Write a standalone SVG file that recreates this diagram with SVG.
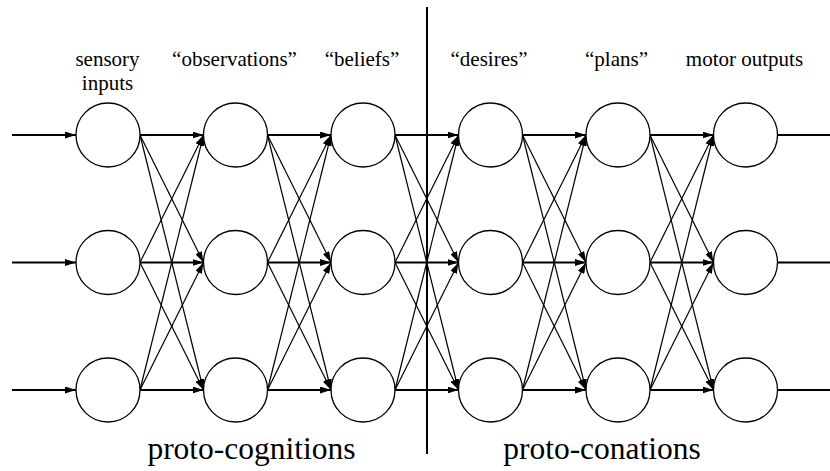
<svg xmlns="http://www.w3.org/2000/svg" width="830" height="471" viewBox="0 0 830 471" font-family="Liberation Serif">
<defs>
<marker id="ah" markerUnits="userSpaceOnUse" markerWidth="11" markerHeight="7" refX="11" refY="3.5" orient="auto">
<path d="M0,0 L11,3.5 L0,7 z" fill="#000" stroke="none"/>
</marker>
</defs>
<rect width="830" height="471" fill="#fff"/>
<g id="labels" fill="#000">
<text x="107.5" y="66" font-size="21" font-family="Liberation Serif" text-anchor="middle">sensory</text>
<text x="107.5" y="90" font-size="21" font-family="Liberation Serif" text-anchor="middle">inputs</text>
<text x="234.5" y="66" font-size="21" font-family="Liberation Serif" text-anchor="middle">“observations”</text>
<text x="362" y="66" font-size="21" font-family="Liberation Serif" text-anchor="middle">“beliefs”</text>
<text x="489" y="66" font-size="21" font-family="Liberation Serif" text-anchor="middle">“desires”</text>
<text x="616.5" y="66" font-size="21" font-family="Liberation Serif" text-anchor="middle">“plans”</text>
<text x="744.5" y="66" font-size="21" font-family="Liberation Serif" text-anchor="middle">motor outputs</text>
<text x="251.5" y="459" font-size="31.5" font-family="Liberation Serif" text-anchor="middle">proto-cognitions</text>
<text x="602" y="459" font-size="31.5" font-family="Liberation Serif" text-anchor="middle">proto-conations</text>
</g>
<line x1="427" y1="7" x2="427" y2="454" stroke="#000" stroke-width="2"/>
<g id="connectors" stroke="#000" fill="none">
<g stroke-width="2">
<line x1="12" y1="135" x2="76" y2="135" marker-end="url(#ah)"/>
<line x1="12" y1="262.5" x2="76" y2="262.5" marker-end="url(#ah)"/>
<line x1="12" y1="390" x2="76" y2="390" marker-end="url(#ah)"/>
<line x1="777.5" y1="135" x2="830" y2="135"/>
<line x1="777.5" y1="262.5" x2="830" y2="262.5"/>
<line x1="777.5" y1="390" x2="830" y2="390"/>
<line x1="140" y1="135" x2="203.5" y2="135" marker-end="url(#ah)"/>
<line x1="140" y1="262.5" x2="203.5" y2="262.5" marker-end="url(#ah)"/>
<line x1="140" y1="390" x2="203.5" y2="390" marker-end="url(#ah)"/>
<line x1="267.5" y1="135" x2="331" y2="135" marker-end="url(#ah)"/>
<line x1="267.5" y1="262.5" x2="331" y2="262.5" marker-end="url(#ah)"/>
<line x1="267.5" y1="390" x2="331" y2="390" marker-end="url(#ah)"/>
<line x1="395" y1="135" x2="458.5" y2="135" marker-end="url(#ah)"/>
<line x1="395" y1="262.5" x2="458.5" y2="262.5" marker-end="url(#ah)"/>
<line x1="395" y1="390" x2="458.5" y2="390" marker-end="url(#ah)"/>
<line x1="522.5" y1="135" x2="586" y2="135" marker-end="url(#ah)"/>
<line x1="522.5" y1="262.5" x2="586" y2="262.5" marker-end="url(#ah)"/>
<line x1="522.5" y1="390" x2="586" y2="390" marker-end="url(#ah)"/>
<line x1="650" y1="135" x2="713.5" y2="135" marker-end="url(#ah)"/>
<line x1="650" y1="262.5" x2="713.5" y2="262.5" marker-end="url(#ah)"/>
<line x1="650" y1="390" x2="713.5" y2="390" marker-end="url(#ah)"/>
</g>
<g stroke-width="1.2">
<line x1="140" y1="135" x2="203.5" y2="262.5" marker-end="url(#ah)"/>
<line x1="140" y1="135" x2="203.5" y2="390" marker-end="url(#ah)"/>
<line x1="140" y1="262.5" x2="203.5" y2="135" marker-end="url(#ah)"/>
<line x1="140" y1="262.5" x2="203.5" y2="390" marker-end="url(#ah)"/>
<line x1="140" y1="390" x2="203.5" y2="135" marker-end="url(#ah)"/>
<line x1="140" y1="390" x2="203.5" y2="262.5" marker-end="url(#ah)"/>
<line x1="267.5" y1="135" x2="331" y2="262.5" marker-end="url(#ah)"/>
<line x1="267.5" y1="135" x2="331" y2="390" marker-end="url(#ah)"/>
<line x1="267.5" y1="262.5" x2="331" y2="135" marker-end="url(#ah)"/>
<line x1="267.5" y1="262.5" x2="331" y2="390" marker-end="url(#ah)"/>
<line x1="267.5" y1="390" x2="331" y2="135" marker-end="url(#ah)"/>
<line x1="267.5" y1="390" x2="331" y2="262.5" marker-end="url(#ah)"/>
<line x1="395" y1="135" x2="458.5" y2="262.5" marker-end="url(#ah)"/>
<line x1="395" y1="135" x2="458.5" y2="390" marker-end="url(#ah)"/>
<line x1="395" y1="262.5" x2="458.5" y2="135" marker-end="url(#ah)"/>
<line x1="395" y1="262.5" x2="458.5" y2="390" marker-end="url(#ah)"/>
<line x1="395" y1="390" x2="458.5" y2="135" marker-end="url(#ah)"/>
<line x1="395" y1="390" x2="458.5" y2="262.5" marker-end="url(#ah)"/>
<line x1="522.5" y1="135" x2="586" y2="262.5" marker-end="url(#ah)"/>
<line x1="522.5" y1="135" x2="586" y2="390" marker-end="url(#ah)"/>
<line x1="522.5" y1="262.5" x2="586" y2="135" marker-end="url(#ah)"/>
<line x1="522.5" y1="262.5" x2="586" y2="390" marker-end="url(#ah)"/>
<line x1="522.5" y1="390" x2="586" y2="135" marker-end="url(#ah)"/>
<line x1="522.5" y1="390" x2="586" y2="262.5" marker-end="url(#ah)"/>
<line x1="650" y1="135" x2="713.5" y2="262.5" marker-end="url(#ah)"/>
<line x1="650" y1="135" x2="713.5" y2="390" marker-end="url(#ah)"/>
<line x1="650" y1="262.5" x2="713.5" y2="135" marker-end="url(#ah)"/>
<line x1="650" y1="262.5" x2="713.5" y2="390" marker-end="url(#ah)"/>
<line x1="650" y1="390" x2="713.5" y2="135" marker-end="url(#ah)"/>
<line x1="650" y1="390" x2="713.5" y2="262.5" marker-end="url(#ah)"/>
</g>
</g>
<g id="nodes" fill="#fff" stroke="#000" stroke-width="1.3">
<g id="n1a"><circle cx="108" cy="135" r="32"/></g>
<g id="n1b"><circle cx="108" cy="262.5" r="32"/></g>
<g id="n1c"><circle cx="108" cy="390" r="32"/></g>
<g id="n2a"><circle cx="235.5" cy="135" r="32"/></g>
<g id="n2b"><circle cx="235.5" cy="262.5" r="32"/></g>
<g id="n2c"><circle cx="235.5" cy="390" r="32"/></g>
<g id="n3a"><circle cx="363" cy="135" r="32"/></g>
<g id="n3b"><circle cx="363" cy="262.5" r="32"/></g>
<g id="n3c"><circle cx="363" cy="390" r="32"/></g>
<g id="n4a"><circle cx="490.5" cy="135" r="32"/></g>
<g id="n4b"><circle cx="490.5" cy="262.5" r="32"/></g>
<g id="n4c"><circle cx="490.5" cy="390" r="32"/></g>
<g id="n5a"><circle cx="618" cy="135" r="32"/></g>
<g id="n5b"><circle cx="618" cy="262.5" r="32"/></g>
<g id="n5c"><circle cx="618" cy="390" r="32"/></g>
<g id="n6a"><circle cx="745.5" cy="135" r="32"/></g>
<g id="n6b"><circle cx="745.5" cy="262.5" r="32"/></g>
<g id="n6c"><circle cx="745.5" cy="390" r="32"/></g>
</g>
</svg>
